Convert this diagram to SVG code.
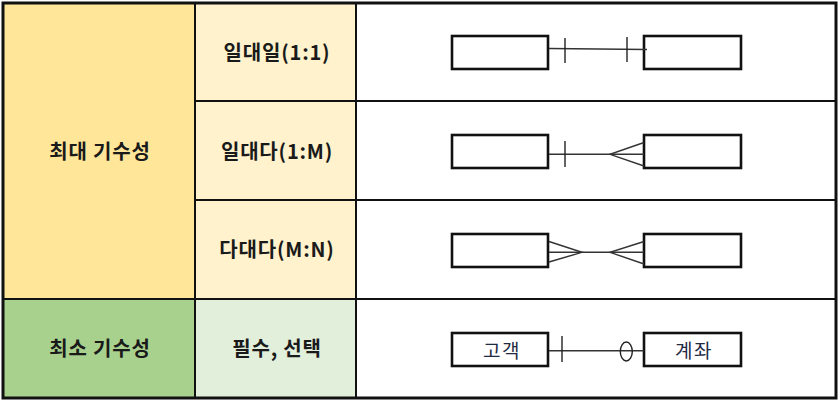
<svg xmlns="http://www.w3.org/2000/svg" width="840" height="402" viewBox="0 0 840 402">
<style>
.lbl{font-family:"Noto Sans CJK KR","Noto Sans",sans-serif;font-weight:bold;font-size:20px;letter-spacing:0.8px;fill:#1a1a1a;text-anchor:middle;dominant-baseline:central}
.etxt{font-family:"Noto Sans CJK KR","Noto Sans",sans-serif;font-size:19px;letter-spacing:1.5px;fill:#1f2a44;text-anchor:middle;dominant-baseline:central}
.grid{stroke:#111;stroke-width:2;fill:none}
.ent{fill:#fff;stroke:#111;stroke-width:2.6}
.ln{stroke:#333;stroke-width:1.4;fill:none}
.tk{stroke:#222;stroke-width:1.4;fill:none}
</style>
<rect width="840" height="402" fill="#fff"/>
<g id="cells">
<rect x="3" y="3" width="192" height="296" fill="#FFE699"/>
<rect x="3" y="299" width="192" height="99" fill="#A9D18E"/>
<rect x="195" y="3" width="161" height="296" fill="#FFF2CC"/>
<rect x="195" y="299" width="161" height="99" fill="#E2EFDA"/>
</g>
<g id="grid">
<line class="grid" x1="195" y1="3" x2="195" y2="398"/>
<line class="grid" x1="356" y1="3" x2="356" y2="398"/>
<line class="grid" x1="195" y1="101" x2="836" y2="101"/>
<line class="grid" x1="195" y1="200" x2="836" y2="200"/>
<line class="grid" x1="3" y1="299" x2="836" y2="299"/>
<rect x="3" y="3" width="833" height="395" fill="none" stroke="#111" stroke-width="3"/>
</g>
<g id="labels">
<text class="lbl" x="100" y="150">최대 기수성</text>
<text class="lbl" x="100" y="347">최소 기수성</text>
<text class="lbl" x="277" y="51">일대일(1:1)</text>
<text class="lbl" x="277" y="150">일대다(1:M)</text>
<text class="lbl" x="277" y="248">다대다(M:N)</text>
<text class="lbl" x="277" y="347">필수, 선택</text>
</g>
<g id="entities">
<rect class="ent" x="452" y="36" width="96" height="33"/>
<rect class="ent" x="644" y="36" width="97" height="33"/>
<rect class="ent" x="452" y="135" width="96" height="33"/>
<rect class="ent" x="644" y="135" width="97" height="33"/>
<rect class="ent" x="452" y="234" width="96" height="33"/>
<rect class="ent" x="644" y="234" width="97" height="33"/>
<g id="customer"><rect class="ent" x="452" y="333" width="96" height="33"/><text class="etxt" x="502" y="349.5">고객</text></g>
<g id="account"><rect class="ent" x="644" y="333" width="97" height="33"/><text class="etxt" x="694" y="349.5">계좌</text></g>
</g>
<g id="connectors">
<line class="ln" x1="549" y1="48.5" x2="647" y2="49.5"/>
<line class="tk" x1="565" y1="38" x2="565" y2="63"/>
<line class="tk" x1="627" y1="37" x2="627" y2="62"/>
<line class="ln" x1="549" y1="154.3" x2="644" y2="154.3"/>
<line class="tk" x1="565" y1="141" x2="565" y2="167"/>
<polyline class="ln" points="644,142.5 610,154.3 644,166"/>
<line class="ln" x1="549" y1="252.3" x2="644" y2="252.3"/>
<polyline class="ln" points="549,241.5 582,252.3 549,262"/>
<polyline class="ln" points="644,241.5 610,252.3 644,264"/>
<line class="ln" x1="549" y1="350.7" x2="644" y2="350.7"/>
<line class="tk" x1="562" y1="336" x2="562" y2="362"/>
<ellipse cx="626.3" cy="351.5" rx="6" ry="9.5" fill="none" stroke="#222" stroke-width="1.4"/>
</g>
</svg>
